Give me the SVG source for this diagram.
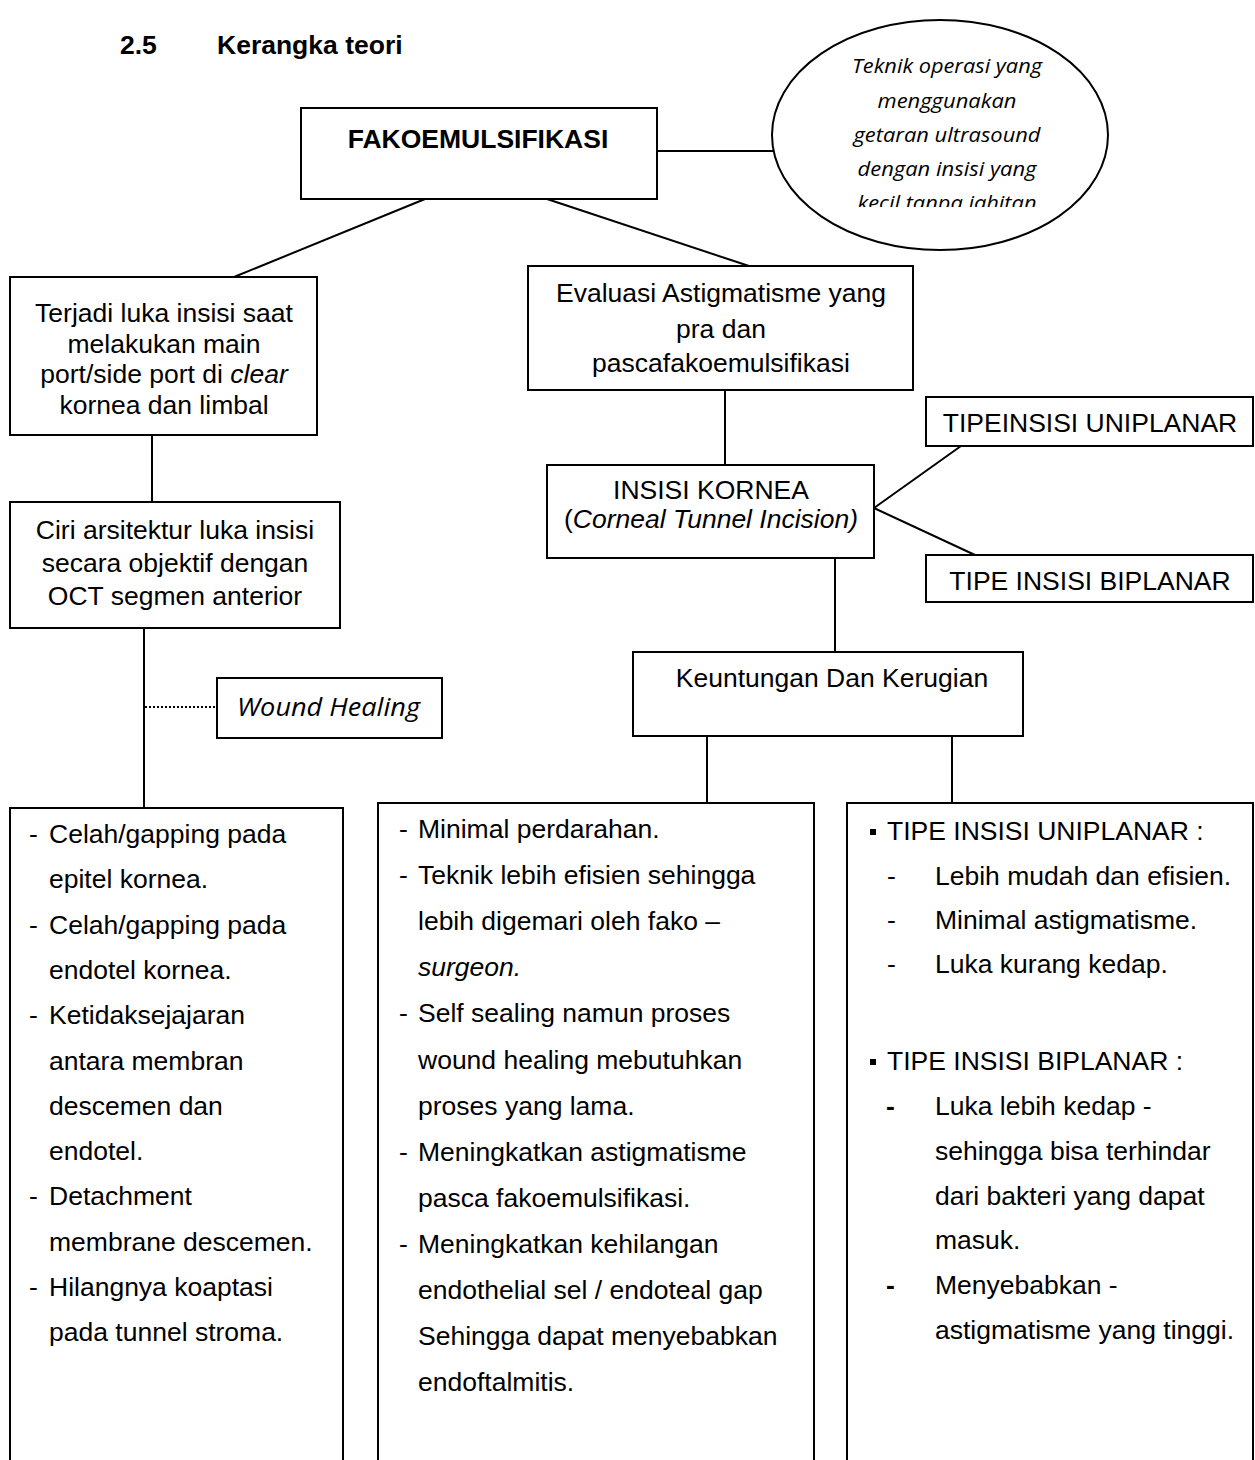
<svg xmlns="http://www.w3.org/2000/svg" width="1255" height="1460" viewBox="0 0 1255 1460">
<style>
.box{fill:#fff;stroke:#000;stroke-width:2}
.ln{fill:none;stroke:#000;stroke-width:2}
.t{font-family:"Liberation Sans",Arial,sans-serif;font-size:26.5px;fill:#000}
.c{text-anchor:middle}
.b{font-weight:bold}
.i{font-style:italic}
.cal{font-family:"Open Sans","Liberation Sans",sans-serif;font-style:italic;fill:#000}
</style>
<defs>
<clipPath id="ellclip"><rect x="770" y="10" width="360" height="197"/></clipPath>
</defs>
<rect width="1255" height="1460" fill="#fff"/>
<g id="title">
<text class="t b" x="120" y="54" font-size="31">2.5</text>
<text class="t b" x="217" y="54" font-size="31">Kerangka teori</text>
</g>
<g id="connectors">
<line class="ln" x1="657" y1="151" x2="773" y2="151"/>
<line class="ln" x1="425" y1="199" x2="234" y2="277"/>
<line class="ln" x1="547" y1="199" x2="749" y2="266"/>
<line class="ln" x1="152" y1="435" x2="152" y2="502"/>
<line class="ln" x1="144" y1="628" x2="144" y2="808"/>
<line class="ln" x1="145" y1="707" x2="217" y2="707" stroke-dasharray="2 2"/>
<line class="ln" x1="725" y1="390" x2="725" y2="465"/>
<line class="ln" x1="874" y1="508" x2="961" y2="446"/>
<line class="ln" x1="874" y1="508" x2="975" y2="555"/>
<line class="ln" x1="835" y1="558" x2="835" y2="652"/>
<line class="ln" x1="707" y1="736" x2="707" y2="803"/>
<line class="ln" x1="952" y1="736" x2="952" y2="803"/>
</g>
<g id="fako">
<rect class="box" x="301" y="108" width="356" height="91"/>
<text class="t b c" x="478" y="148" font-size="29">FAKOEMULSIFIKASI</text>
</g>
<g id="definisi">
<ellipse class="box" cx="940" cy="135" rx="168" ry="115"/>
<g clip-path="url(#ellclip)" class="cal" font-size="20" text-anchor="middle">
<text x="947" y="73" textLength="190" lengthAdjust="spacingAndGlyphs">Teknik operasi yang</text>
<text x="947" y="107.5" textLength="139" lengthAdjust="spacingAndGlyphs">menggunakan</text>
<text x="947" y="141.5" textLength="187" lengthAdjust="spacingAndGlyphs">getaran ultrasound</text>
<text x="947" y="175.5" textLength="179" lengthAdjust="spacingAndGlyphs">dengan insisi yang</text>
<text x="947" y="209.5" textLength="179" lengthAdjust="spacingAndGlyphs">kecil tanpa jahitan</text>
</g>
</g>
<g id="luka">
<rect class="box" x="10" y="277" width="307" height="158"/>
<text class="t c" x="164" y="322">Terjadi luka insisi saat</text>
<text class="t c" x="164" y="352.5">melakukan main</text>
<text class="t c" x="164" y="383">port/side port di <tspan class="i">clear</tspan></text>
<text class="t c" x="164" y="413.5">kornea dan limbal</text>
</g>
<g id="ciri">
<rect class="box" x="10" y="502" width="330" height="126"/>
<text class="t c" x="175" y="539">Ciri arsitektur luka insisi</text>
<text class="t c" x="175" y="572">secara objektif dengan</text>
<text class="t c" x="175" y="605">OCT segmen anterior</text>
</g>
<g id="wound">
<rect class="box" x="217" y="678" width="225" height="60"/>
<text class="cal" x="237" y="716" font-size="26" textLength="183" lengthAdjust="spacingAndGlyphs">Wound Healing</text>
</g>
<g id="evaluasi">
<rect class="box" x="528" y="266" width="385" height="124"/>
<text class="t c" x="721" y="302">Evaluasi Astigmatisme yang</text>
<text class="t c" x="721" y="338">pra dan</text>
<text class="t c" x="721" y="372">pascafakoemulsifikasi</text>
</g>
<g id="insisi">
<rect class="box" x="547" y="465" width="327" height="93"/>
<text class="t c" x="711" y="499" font-size="24">INSISI KORNEA</text>
<text class="t c" x="711" y="528" font-size="24">(<tspan class="i">Corneal Tunnel Incision)</tspan></text>
</g>
<g id="uniplanar">
<rect class="box" x="926" y="397" width="327" height="49"/>
<text class="t c" x="1090" y="432" font-size="24">TIPEINSISI UNIPLANAR</text>
</g>
<g id="biplanar">
<rect class="box" x="926" y="555" width="327" height="47"/>
<text class="t c" x="1090" y="590" font-size="24">TIPE INSISI BIPLANAR</text>
</g>
<g id="keuntungan">
<rect class="box" x="633" y="652" width="390" height="84"/>
<text class="t c" x="832" y="687">Keuntungan Dan Kerugian</text>
</g>
<g id="kiri">
<path class="ln" d="M10,1462 V808 H343 V1462"/>
<g class="t">
<text x="29" y="843">-</text><text x="49" y="843">Celah/gapping pada</text>
<text x="49" y="888.3">epitel kornea.</text>
<text x="29" y="933.6">-</text><text x="49" y="933.6">Celah/gapping pada</text>
<text x="49" y="978.9">endotel kornea.</text>
<text x="29" y="1024.2">-</text><text x="49" y="1024.2">Ketidaksejajaran</text>
<text x="49" y="1069.5">antara membran</text>
<text x="49" y="1114.8">descemen dan</text>
<text x="49" y="1160.1">endotel.</text>
<text x="29" y="1205.4">-</text><text x="49" y="1205.4">Detachment</text>
<text x="49" y="1250.7">membrane descemen.</text>
<text x="29" y="1296">-</text><text x="49" y="1296">Hilangnya koaptasi</text>
<text x="49" y="1341.3">pada tunnel stroma.</text>
</g>
</g>
<g id="tengah">
<path class="ln" d="M378,1462 V803 H814 V1462"/>
<g class="t">
<text x="399" y="838">-</text><text x="418" y="838">Minimal perdarahan.</text>
<text x="399" y="884.1">-</text><text x="418" y="884.1">Teknik lebih efisien sehingga</text>
<text x="418" y="930.2">lebih digemari oleh fako –</text>
<text x="418" y="976.3" class="i">surgeon.</text>
<text x="399" y="1022.4">-</text><text x="418" y="1022.4">Self sealing namun proses</text>
<text x="418" y="1068.5">wound healing mebutuhkan</text>
<text x="418" y="1114.6">proses yang lama.</text>
<text x="399" y="1160.7">-</text><text x="418" y="1160.7">Meningkatkan astigmatisme</text>
<text x="418" y="1206.8">pasca fakoemulsifikasi.</text>
<text x="399" y="1252.9">-</text><text x="418" y="1252.9">Meningkatkan kehilangan</text>
<text x="418" y="1299">endothelial sel / endoteal gap</text>
<text x="418" y="1345.1">Sehingga dapat menyebabkan</text>
<text x="418" y="1391.2">endoftalmitis.</text>
</g>
</g>
<g id="kanan">
<path class="ln" d="M847,1462 V803 H1253 V1462"/>
<rect x="870" y="829" width="6" height="6" fill="#000"/>
<text class="t" x="887" y="840" font-size="24">TIPE INSISI UNIPLANAR :</text>
<g class="t">
<text x="887" y="885">-</text><text x="935" y="885">Lebih mudah dan efisien.</text>
<text x="887" y="929">-</text><text x="935" y="929">Minimal astigmatisme.</text>
<text x="887" y="973">-</text><text x="935" y="973">Luka kurang kedap.</text>
</g>
<rect x="870" y="1059" width="6" height="6" fill="#000"/>
<text class="t" x="887" y="1070" font-size="24">TIPE INSISI BIPLANAR :</text>
<g class="t">
<text x="886" y="1115" font-weight="bold">-</text><text x="935" y="1115">Luka lebih kedap -</text>
<text x="935" y="1160">sehingga bisa terhindar</text>
<text x="935" y="1204.5">dari bakteri yang dapat</text>
<text x="935" y="1249">masuk.</text>
<text x="886" y="1294" font-weight="bold">-</text><text x="935" y="1294">Menyebabkan -</text>
<text x="935" y="1339">astigmatisme yang tinggi.</text>
</g>
</g>
</svg>
